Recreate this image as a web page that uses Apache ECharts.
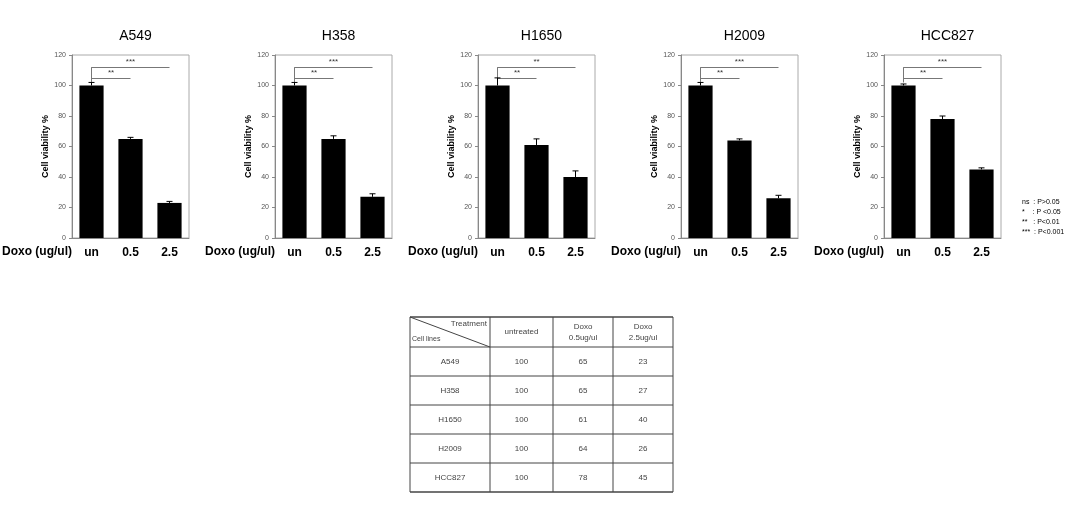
<!DOCTYPE html><html><head><meta charset="utf-8">
<script src="https://cdn.jsdelivr.net/npm/echarts@6/dist/echarts.min.js"></script>
<style>body{margin:0;background:#fff}#c{width:1080px;height:518px}</style></head><body><div id="c"></div><script>
const cellLines=['A549','H358','H1650','H2009','HCC827'];
const doses=['un','0.5','2.5'];
const viability=[[100,65,23],[100,65,27],[100,61,40],[100,64,26],[100,78,45]];
const errors=[[2,1,1],[2,2,2],[5,4,4],[2,1,2],[1,2,1]];
const sig=[['**','***'],['**','***'],['**','**'],['**','***'],['**','***']];
const legendLines=['ns  : P>0.05','*    : P <0.05','**   : P<0.01','***  : P<0.001'];
const tableHeader=['Treatment','untreated','Doxo\n0.5ug/ul','Doxo\n2.5ug/ul'];
const yTicks=[0,20,40,60,80,100,120];
const chart=echarts.init(document.getElementById('c'));
const lefts=[72,275,478,681,884], W=117;
const grids=[],xA=[],yA=[],series=[],titles=[],graphic=[];
cellLines.forEach((n,i)=>{
 grids.push({left:lefts[i],top:55,width:W,height:183,show:true,borderColor:'#aaa',borderWidth:1});
 xA.push({gridIndex:i,type:'category',data:doses,axisTick:{show:false},axisLine:{lineStyle:{color:'#888'}},axisLabel:{color:'#000',fontWeight:'bold',fontSize:12,margin:9}});
 yA.push({gridIndex:i,min:0,max:120,interval:20,splitLine:{show:false},axisLine:{show:true,lineStyle:{color:'#888'}},axisTick:{show:true,length:3,lineStyle:{color:'#888'}},axisLabel:{fontSize:7,color:'#555',margin:6},
  name:'Cell viability %',nameLocation:'middle',nameGap:22,nameTextStyle:{fontSize:9,fontWeight:'bold',color:'#000'}});
 titles.push({text:n,left:lefts[i]+W/2,top:24,textAlign:'center',textStyle:{fontSize:14,fontWeight:'normal',color:'#000'}});
 series.push({type:'bar',xAxisIndex:i,yAxisIndex:i,data:viability[i],barWidth:'62%',itemStyle:{color:'#000'},
  markLine:{symbol:'none',silent:true,lineStyle:{color:'#777',width:1,type:'solid'},label:{position:'middle',formatter:p=>p.name? '':'',fontSize:7},
   data:[
    [{coord:['un',105],name:sig[i][0],label:{show:true,position:'middle',formatter:sig[i][0],fontSize:8,color:'#333',distance:1}},{coord:['0.5',105]}],
    [{coord:['un',112],label:{show:true,position:'middle',formatter:sig[i][1],fontSize:8,color:'#333',distance:1}},{coord:['2.5',112]}],
    [{coord:['un',102]},{coord:['un',112]}]
   ]}});
 series.push({type:'custom',xAxisIndex:i,yAxisIndex:i,data:viability[i].map((v,j)=>[j,v,errors[i][j]]),z:5,
  renderItem:(p,api)=>{const a=api.coord([api.value(0),api.value(1)+api.value(2)]),b=api.coord([api.value(0),api.value(1)]);
   return {type:'group',children:[{type:'line',shape:{x1:a[0],y1:a[1],x2:b[0],y2:b[1]},style:{stroke:'#000',lineWidth:1}},{type:'line',shape:{x1:a[0]-3,y1:a[1],x2:a[0]+3,y2:a[1]},style:{stroke:'#000',lineWidth:1}}]};}});
 graphic.push({type:'text',left:lefts[i]-70,top:246,style:{text:'Doxo (ug/ul)',fontSize:12,fontWeight:'bold',fill:'#000'}});
});
graphic.push({type:'text',left:1022,top:197,style:{text:legendLines.join('\n'),fontSize:7,lineHeight:10,fill:'#000'}});
// table
const tx=[410,490,553,613,673], ty0=317, hh=30, rh=29;
const tb=[];
const yEnd=ty0+hh+rh*cellLines.length;
tx.forEach(x=>tb.push({type:'line',shape:{x1:x,y1:ty0,x2:x,y2:yEnd},style:{stroke:'#444',lineWidth:1}}));
for(let r=0;r<=cellLines.length+1;r++){const y=r===0?ty0:ty0+hh+rh*(r-1);tb.push({type:'line',shape:{x1:tx[0],y1:y,x2:tx[4],y2:y},style:{stroke:'#444',lineWidth:r===0||r===cellLines.length+1?1.5:1}});}
tb.push({type:'line',shape:{x1:tx[0],y1:ty0,x2:tx[1],y2:ty0+hh},style:{stroke:'#444',lineWidth:1}});
tb.push({type:'text',x:tx[1]-3,y:ty0+3,style:{text:tableHeader[0],align:'right',fontSize:8,fill:'#444'}});
tb.push({type:'text',x:tx[0]+2,y:ty0+hh-11,style:{text:'Cell lines',fontSize:7,fill:'#444'}});
for(let c=1;c<4;c++)tb.push({type:'text',x:(tx[c]+tx[c+1])/2,y:ty0+hh/2,style:{text:tableHeader[c],align:'center',verticalAlign:'middle',fontSize:8,lineHeight:11,fill:'#444'}});
cellLines.forEach((n,r)=>{const y=ty0+hh+rh*r+rh/2;
 tb.push({type:'text',x:(tx[0]+tx[1])/2,y,style:{text:n,align:'center',verticalAlign:'middle',fontSize:8,fill:'#444'}});
 viability[r].forEach((v,c)=>tb.push({type:'text',x:(tx[c+1]+tx[c+2])/2,y,style:{text:String(v),align:'center',verticalAlign:'middle',fontSize:8,fill:'#444'}}));});
graphic.push(...tb);
chart.setOption({animation:false,title:titles,grid:grids,xAxis:xA,yAxis:yA,series,graphic});
</script></body></html>
